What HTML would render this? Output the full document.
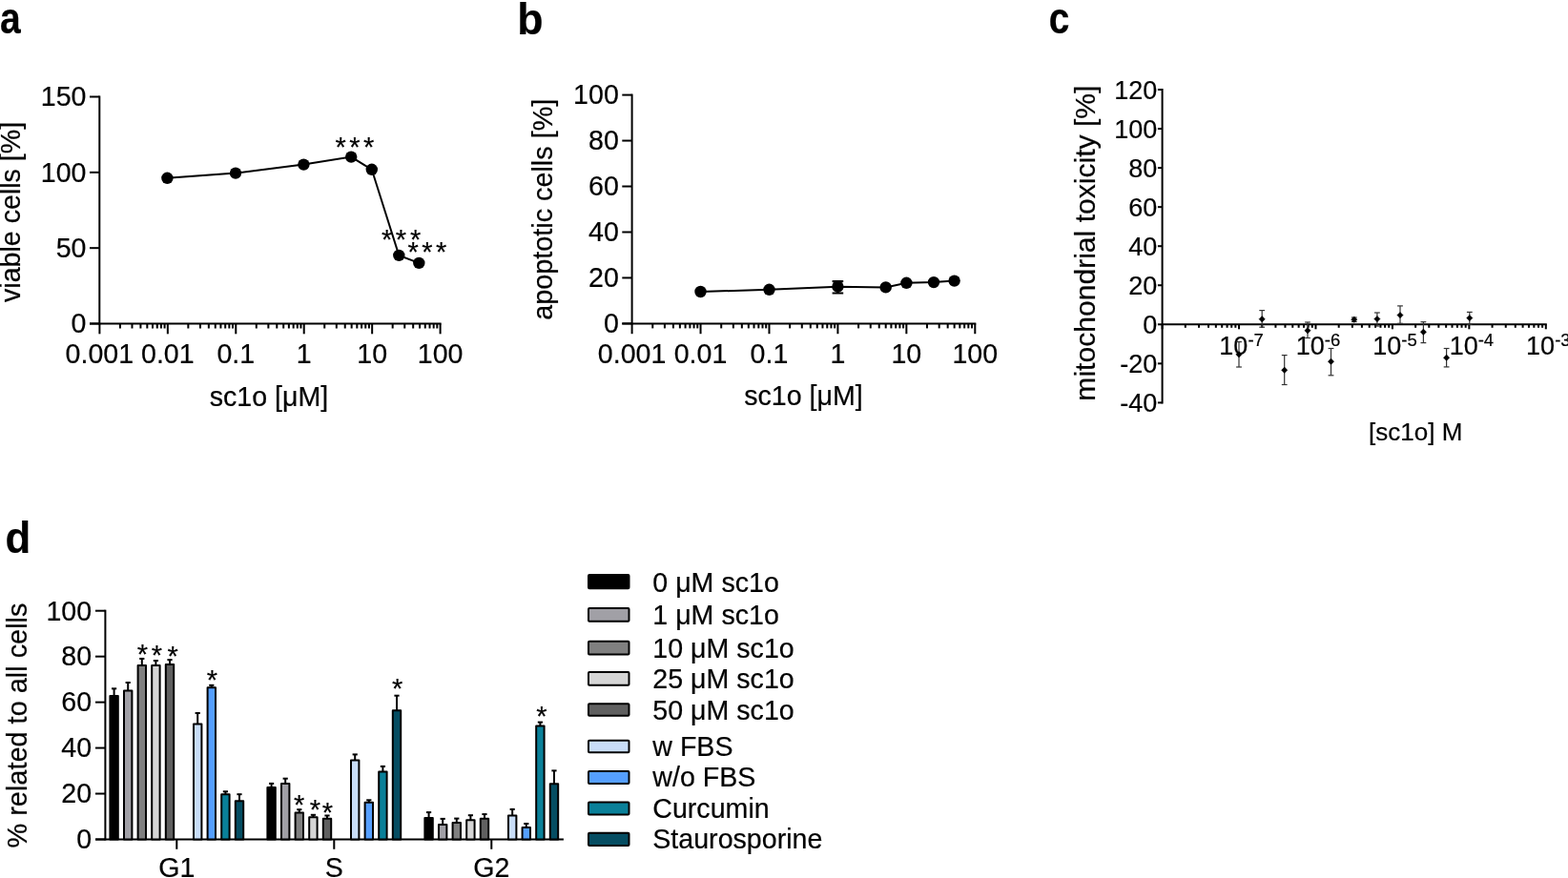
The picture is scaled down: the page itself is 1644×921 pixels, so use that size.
<!DOCTYPE html>
<html><head><meta charset="utf-8"><title>Figure</title>
<style>
html,body{margin:0;padding:0;background:#fff;}
svg{display:block;}
text{font-family:"Liberation Sans", Arial, sans-serif;fill:#000;stroke:#000;stroke-width:0.2px;}
</style></head><body>
<svg width="1644" height="921" viewBox="0 0 1644 921">
<rect width="1644" height="921" fill="#fff"/>
<text x="0" y="0" font-size="47" font-weight="bold" transform="translate(-0.04,35.3) scale(0.83,1)">a</text>
<text x="0" y="0" font-size="47" font-weight="bold" transform="translate(542.35,35.6) scale(0.95,1)">b</text>
<text x="0" y="0" font-size="47" font-weight="bold" transform="translate(1099.8,34.74) scale(0.825,1)">c</text>
<text x="0" y="0" font-size="47" font-weight="bold" transform="translate(5.5,580.2) scale(0.93,1)">d</text>
<line x1="104.30" y1="100.50" x2="104.30" y2="340.50" stroke="#000" stroke-width="2"/>
<line x1="94.00" y1="339.50" x2="104.30" y2="339.50" stroke="#000" stroke-width="2"/>
<text x="90.50" y="349.30" font-size="28.6" text-anchor="end">0</text>
<line x1="94.00" y1="260.17" x2="104.30" y2="260.17" stroke="#000" stroke-width="2"/>
<text x="90.50" y="269.97" font-size="28.6" text-anchor="end">50</text>
<line x1="94.00" y1="180.83" x2="104.30" y2="180.83" stroke="#000" stroke-width="2"/>
<text x="90.50" y="190.63" font-size="28.6" text-anchor="end">100</text>
<line x1="94.00" y1="101.50" x2="104.30" y2="101.50" stroke="#000" stroke-width="2"/>
<text x="90.50" y="111.30" font-size="28.6" text-anchor="end">150</text>
<line x1="94.00" y1="339.50" x2="462.60" y2="339.50" stroke="#000" stroke-width="2"/>
<line x1="104.40" y1="339.50" x2="104.40" y2="350.30" stroke="#000" stroke-width="2"/>
<line x1="125.91" y1="339.50" x2="125.91" y2="344.50" stroke="#000" stroke-width="2"/>
<line x1="138.49" y1="339.50" x2="138.49" y2="344.50" stroke="#000" stroke-width="2"/>
<line x1="147.41" y1="339.50" x2="147.41" y2="344.50" stroke="#000" stroke-width="2"/>
<line x1="154.33" y1="339.50" x2="154.33" y2="344.50" stroke="#000" stroke-width="2"/>
<line x1="159.99" y1="339.50" x2="159.99" y2="344.50" stroke="#000" stroke-width="2"/>
<line x1="164.77" y1="339.50" x2="164.77" y2="344.50" stroke="#000" stroke-width="2"/>
<line x1="168.92" y1="339.50" x2="168.92" y2="344.50" stroke="#000" stroke-width="2"/>
<line x1="172.57" y1="339.50" x2="172.57" y2="344.50" stroke="#000" stroke-width="2"/>
<line x1="175.84" y1="339.50" x2="175.84" y2="350.30" stroke="#000" stroke-width="2"/>
<line x1="197.35" y1="339.50" x2="197.35" y2="344.50" stroke="#000" stroke-width="2"/>
<line x1="209.93" y1="339.50" x2="209.93" y2="344.50" stroke="#000" stroke-width="2"/>
<line x1="218.85" y1="339.50" x2="218.85" y2="344.50" stroke="#000" stroke-width="2"/>
<line x1="225.77" y1="339.50" x2="225.77" y2="344.50" stroke="#000" stroke-width="2"/>
<line x1="231.43" y1="339.50" x2="231.43" y2="344.50" stroke="#000" stroke-width="2"/>
<line x1="236.21" y1="339.50" x2="236.21" y2="344.50" stroke="#000" stroke-width="2"/>
<line x1="240.36" y1="339.50" x2="240.36" y2="344.50" stroke="#000" stroke-width="2"/>
<line x1="244.01" y1="339.50" x2="244.01" y2="344.50" stroke="#000" stroke-width="2"/>
<line x1="247.28" y1="339.50" x2="247.28" y2="350.30" stroke="#000" stroke-width="2"/>
<line x1="268.79" y1="339.50" x2="268.79" y2="344.50" stroke="#000" stroke-width="2"/>
<line x1="281.37" y1="339.50" x2="281.37" y2="344.50" stroke="#000" stroke-width="2"/>
<line x1="290.29" y1="339.50" x2="290.29" y2="344.50" stroke="#000" stroke-width="2"/>
<line x1="297.21" y1="339.50" x2="297.21" y2="344.50" stroke="#000" stroke-width="2"/>
<line x1="302.87" y1="339.50" x2="302.87" y2="344.50" stroke="#000" stroke-width="2"/>
<line x1="307.65" y1="339.50" x2="307.65" y2="344.50" stroke="#000" stroke-width="2"/>
<line x1="311.80" y1="339.50" x2="311.80" y2="344.50" stroke="#000" stroke-width="2"/>
<line x1="315.45" y1="339.50" x2="315.45" y2="344.50" stroke="#000" stroke-width="2"/>
<line x1="318.72" y1="339.50" x2="318.72" y2="350.30" stroke="#000" stroke-width="2"/>
<line x1="340.23" y1="339.50" x2="340.23" y2="344.50" stroke="#000" stroke-width="2"/>
<line x1="352.81" y1="339.50" x2="352.81" y2="344.50" stroke="#000" stroke-width="2"/>
<line x1="361.73" y1="339.50" x2="361.73" y2="344.50" stroke="#000" stroke-width="2"/>
<line x1="368.65" y1="339.50" x2="368.65" y2="344.50" stroke="#000" stroke-width="2"/>
<line x1="374.31" y1="339.50" x2="374.31" y2="344.50" stroke="#000" stroke-width="2"/>
<line x1="379.09" y1="339.50" x2="379.09" y2="344.50" stroke="#000" stroke-width="2"/>
<line x1="383.24" y1="339.50" x2="383.24" y2="344.50" stroke="#000" stroke-width="2"/>
<line x1="386.89" y1="339.50" x2="386.89" y2="344.50" stroke="#000" stroke-width="2"/>
<line x1="390.16" y1="339.50" x2="390.16" y2="350.30" stroke="#000" stroke-width="2"/>
<line x1="411.67" y1="339.50" x2="411.67" y2="344.50" stroke="#000" stroke-width="2"/>
<line x1="424.25" y1="339.50" x2="424.25" y2="344.50" stroke="#000" stroke-width="2"/>
<line x1="433.17" y1="339.50" x2="433.17" y2="344.50" stroke="#000" stroke-width="2"/>
<line x1="440.09" y1="339.50" x2="440.09" y2="344.50" stroke="#000" stroke-width="2"/>
<line x1="445.75" y1="339.50" x2="445.75" y2="344.50" stroke="#000" stroke-width="2"/>
<line x1="450.53" y1="339.50" x2="450.53" y2="344.50" stroke="#000" stroke-width="2"/>
<line x1="454.68" y1="339.50" x2="454.68" y2="344.50" stroke="#000" stroke-width="2"/>
<line x1="458.33" y1="339.50" x2="458.33" y2="344.50" stroke="#000" stroke-width="2"/>
<line x1="461.60" y1="339.50" x2="461.60" y2="350.30" stroke="#000" stroke-width="2"/>
<text x="104.40" y="381.00" font-size="28.6" text-anchor="middle">0.001</text>
<text x="175.84" y="381.00" font-size="28.6" text-anchor="middle">0.01</text>
<text x="247.28" y="381.00" font-size="28.6" text-anchor="middle">0.1</text>
<text x="318.72" y="381.00" font-size="28.6" text-anchor="middle">1</text>
<text x="390.16" y="381.00" font-size="28.6" text-anchor="middle">10</text>
<text x="461.60" y="381.00" font-size="28.6" text-anchor="middle">100</text>
<text x="282.00" y="425.50" font-size="28.6" text-anchor="middle">sc1o [μM]</text>
<text x="0" y="0" font-size="28.6" text-anchor="middle" transform="translate(21.00,222.40) rotate(-90)">viable cells [%]</text>
<polyline fill="none" stroke="#000" stroke-width="2" points="175.4,186.8 247.0,181.6 318.4,172.6 368.2,164.6 389.8,177.8 418.3,267.9 439.3,275.9"/>
<circle cx="175.4" cy="186.8" r="6.2" fill="#000"/>
<circle cx="247" cy="181.6" r="6.2" fill="#000"/>
<circle cx="318.4" cy="172.6" r="6.2" fill="#000"/>
<circle cx="368.2" cy="164.6" r="6.2" fill="#000"/>
<circle cx="389.8" cy="177.8" r="6.2" fill="#000"/>
<circle cx="418.3" cy="267.9" r="6.2" fill="#000"/>
<circle cx="439.3" cy="275.9" r="6.2" fill="#000"/>
<text x="357.25" y="164.17" font-size="29" text-anchor="middle" stroke="#000" stroke-width="0.25">*</text>
<text x="371.80" y="164.17" font-size="29" text-anchor="middle" stroke="#000" stroke-width="0.25">*</text>
<text x="386.70" y="164.17" font-size="29" text-anchor="middle" stroke="#000" stroke-width="0.25">*</text>
<text x="405.60" y="261.47" font-size="29" text-anchor="middle" stroke="#000" stroke-width="0.25">*</text>
<text x="420.50" y="261.47" font-size="29" text-anchor="middle" stroke="#000" stroke-width="0.25">*</text>
<text x="435.60" y="261.47" font-size="29" text-anchor="middle" stroke="#000" stroke-width="0.25">*</text>
<text x="433.10" y="273.77" font-size="29" text-anchor="middle" stroke="#000" stroke-width="0.25">*</text>
<text x="447.80" y="273.77" font-size="29" text-anchor="middle" stroke="#000" stroke-width="0.25">*</text>
<text x="462.70" y="273.77" font-size="29" text-anchor="middle" stroke="#000" stroke-width="0.25">*</text>
<line x1="662.60" y1="98.60" x2="662.60" y2="340.40" stroke="#000" stroke-width="2"/>
<line x1="652.30" y1="339.40" x2="662.60" y2="339.40" stroke="#000" stroke-width="2"/>
<text x="648.80" y="349.20" font-size="28.6" text-anchor="end">0</text>
<line x1="652.30" y1="291.44" x2="662.60" y2="291.44" stroke="#000" stroke-width="2"/>
<text x="648.80" y="301.24" font-size="28.6" text-anchor="end">20</text>
<line x1="652.30" y1="243.48" x2="662.60" y2="243.48" stroke="#000" stroke-width="2"/>
<text x="648.80" y="253.28" font-size="28.6" text-anchor="end">40</text>
<line x1="652.30" y1="195.52" x2="662.60" y2="195.52" stroke="#000" stroke-width="2"/>
<text x="648.80" y="205.32" font-size="28.6" text-anchor="end">60</text>
<line x1="652.30" y1="147.56" x2="662.60" y2="147.56" stroke="#000" stroke-width="2"/>
<text x="648.80" y="157.36" font-size="28.6" text-anchor="end">80</text>
<line x1="652.30" y1="99.60" x2="662.60" y2="99.60" stroke="#000" stroke-width="2"/>
<text x="648.80" y="109.40" font-size="28.6" text-anchor="end">100</text>
<line x1="652.30" y1="339.40" x2="1023.30" y2="339.40" stroke="#000" stroke-width="2"/>
<line x1="662.60" y1="339.40" x2="662.60" y2="350.20" stroke="#000" stroke-width="2"/>
<line x1="684.26" y1="339.40" x2="684.26" y2="344.40" stroke="#000" stroke-width="2"/>
<line x1="696.92" y1="339.40" x2="696.92" y2="344.40" stroke="#000" stroke-width="2"/>
<line x1="705.91" y1="339.40" x2="705.91" y2="344.40" stroke="#000" stroke-width="2"/>
<line x1="712.88" y1="339.40" x2="712.88" y2="344.40" stroke="#000" stroke-width="2"/>
<line x1="718.58" y1="339.40" x2="718.58" y2="344.40" stroke="#000" stroke-width="2"/>
<line x1="723.40" y1="339.40" x2="723.40" y2="344.40" stroke="#000" stroke-width="2"/>
<line x1="727.57" y1="339.40" x2="727.57" y2="344.40" stroke="#000" stroke-width="2"/>
<line x1="731.25" y1="339.40" x2="731.25" y2="344.40" stroke="#000" stroke-width="2"/>
<line x1="734.54" y1="339.40" x2="734.54" y2="350.20" stroke="#000" stroke-width="2"/>
<line x1="756.20" y1="339.40" x2="756.20" y2="344.40" stroke="#000" stroke-width="2"/>
<line x1="768.86" y1="339.40" x2="768.86" y2="344.40" stroke="#000" stroke-width="2"/>
<line x1="777.85" y1="339.40" x2="777.85" y2="344.40" stroke="#000" stroke-width="2"/>
<line x1="784.82" y1="339.40" x2="784.82" y2="344.40" stroke="#000" stroke-width="2"/>
<line x1="790.52" y1="339.40" x2="790.52" y2="344.40" stroke="#000" stroke-width="2"/>
<line x1="795.34" y1="339.40" x2="795.34" y2="344.40" stroke="#000" stroke-width="2"/>
<line x1="799.51" y1="339.40" x2="799.51" y2="344.40" stroke="#000" stroke-width="2"/>
<line x1="803.19" y1="339.40" x2="803.19" y2="344.40" stroke="#000" stroke-width="2"/>
<line x1="806.48" y1="339.40" x2="806.48" y2="350.20" stroke="#000" stroke-width="2"/>
<line x1="828.14" y1="339.40" x2="828.14" y2="344.40" stroke="#000" stroke-width="2"/>
<line x1="840.80" y1="339.40" x2="840.80" y2="344.40" stroke="#000" stroke-width="2"/>
<line x1="849.79" y1="339.40" x2="849.79" y2="344.40" stroke="#000" stroke-width="2"/>
<line x1="856.76" y1="339.40" x2="856.76" y2="344.40" stroke="#000" stroke-width="2"/>
<line x1="862.46" y1="339.40" x2="862.46" y2="344.40" stroke="#000" stroke-width="2"/>
<line x1="867.28" y1="339.40" x2="867.28" y2="344.40" stroke="#000" stroke-width="2"/>
<line x1="871.45" y1="339.40" x2="871.45" y2="344.40" stroke="#000" stroke-width="2"/>
<line x1="875.13" y1="339.40" x2="875.13" y2="344.40" stroke="#000" stroke-width="2"/>
<line x1="878.42" y1="339.40" x2="878.42" y2="350.20" stroke="#000" stroke-width="2"/>
<line x1="900.08" y1="339.40" x2="900.08" y2="344.40" stroke="#000" stroke-width="2"/>
<line x1="912.74" y1="339.40" x2="912.74" y2="344.40" stroke="#000" stroke-width="2"/>
<line x1="921.73" y1="339.40" x2="921.73" y2="344.40" stroke="#000" stroke-width="2"/>
<line x1="928.70" y1="339.40" x2="928.70" y2="344.40" stroke="#000" stroke-width="2"/>
<line x1="934.40" y1="339.40" x2="934.40" y2="344.40" stroke="#000" stroke-width="2"/>
<line x1="939.22" y1="339.40" x2="939.22" y2="344.40" stroke="#000" stroke-width="2"/>
<line x1="943.39" y1="339.40" x2="943.39" y2="344.40" stroke="#000" stroke-width="2"/>
<line x1="947.07" y1="339.40" x2="947.07" y2="344.40" stroke="#000" stroke-width="2"/>
<line x1="950.36" y1="339.40" x2="950.36" y2="350.20" stroke="#000" stroke-width="2"/>
<line x1="972.02" y1="339.40" x2="972.02" y2="344.40" stroke="#000" stroke-width="2"/>
<line x1="984.68" y1="339.40" x2="984.68" y2="344.40" stroke="#000" stroke-width="2"/>
<line x1="993.67" y1="339.40" x2="993.67" y2="344.40" stroke="#000" stroke-width="2"/>
<line x1="1000.64" y1="339.40" x2="1000.64" y2="344.40" stroke="#000" stroke-width="2"/>
<line x1="1006.34" y1="339.40" x2="1006.34" y2="344.40" stroke="#000" stroke-width="2"/>
<line x1="1011.16" y1="339.40" x2="1011.16" y2="344.40" stroke="#000" stroke-width="2"/>
<line x1="1015.33" y1="339.40" x2="1015.33" y2="344.40" stroke="#000" stroke-width="2"/>
<line x1="1019.01" y1="339.40" x2="1019.01" y2="344.40" stroke="#000" stroke-width="2"/>
<line x1="1022.30" y1="339.40" x2="1022.30" y2="350.20" stroke="#000" stroke-width="2"/>
<text x="662.60" y="381.00" font-size="28.6" text-anchor="middle">0.001</text>
<text x="734.54" y="381.00" font-size="28.6" text-anchor="middle">0.01</text>
<text x="806.48" y="381.00" font-size="28.6" text-anchor="middle">0.1</text>
<text x="878.42" y="381.00" font-size="28.6" text-anchor="middle">1</text>
<text x="950.36" y="381.00" font-size="28.6" text-anchor="middle">10</text>
<text x="1022.30" y="381.00" font-size="28.6" text-anchor="middle">100</text>
<text x="842.50" y="425.40" font-size="28.6" text-anchor="middle">sc1o [μM]</text>
<text x="0" y="0" font-size="28.8" text-anchor="middle" transform="translate(578.50,219.80) rotate(-90)">apoptotic cells [%]</text>
<line x1="878.40" y1="295.00" x2="878.40" y2="307.50" stroke="#000" stroke-width="2"/>
<line x1="872.60" y1="295.00" x2="884.20" y2="295.00" stroke="#000" stroke-width="2"/>
<line x1="872.60" y1="307.50" x2="884.20" y2="307.50" stroke="#000" stroke-width="2"/>
<polyline fill="none" stroke="#000" stroke-width="2" points="734.5,306.0 806.5,303.8 878.4,300.7 928.7,301.4 950.4,296.8 979.0,296.1 1000.6,294.6"/>
<circle cx="734.5" cy="306" r="6.2" fill="#000"/>
<circle cx="806.5" cy="303.8" r="6.2" fill="#000"/>
<circle cx="878.4" cy="300.7" r="6.2" fill="#000"/>
<circle cx="928.7" cy="301.4" r="6.2" fill="#000"/>
<circle cx="950.4" cy="296.8" r="6.2" fill="#000"/>
<circle cx="979" cy="296.1" r="6.2" fill="#000"/>
<circle cx="1000.6" cy="294.6" r="6.2" fill="#000"/>
<line x1="1218.60" y1="93.00" x2="1218.60" y2="423.40" stroke="#000" stroke-width="2"/>
<line x1="1213.90" y1="422.40" x2="1218.60" y2="422.40" stroke="#000" stroke-width="2"/>
<text x="1213.20" y="432.20" font-size="27" text-anchor="end">-40</text>
<line x1="1213.90" y1="381.35" x2="1218.60" y2="381.35" stroke="#000" stroke-width="2"/>
<text x="1213.20" y="391.15" font-size="27" text-anchor="end">-20</text>
<line x1="1213.90" y1="340.30" x2="1218.60" y2="340.30" stroke="#000" stroke-width="2"/>
<text x="1213.20" y="350.10" font-size="27" text-anchor="end">0</text>
<line x1="1213.90" y1="299.25" x2="1218.60" y2="299.25" stroke="#000" stroke-width="2"/>
<text x="1213.20" y="309.05" font-size="27" text-anchor="end">20</text>
<line x1="1213.90" y1="258.20" x2="1218.60" y2="258.20" stroke="#000" stroke-width="2"/>
<text x="1213.20" y="268.00" font-size="27" text-anchor="end">40</text>
<line x1="1213.90" y1="217.15" x2="1218.60" y2="217.15" stroke="#000" stroke-width="2"/>
<text x="1213.20" y="226.95" font-size="27" text-anchor="end">60</text>
<line x1="1213.90" y1="176.10" x2="1218.60" y2="176.10" stroke="#000" stroke-width="2"/>
<text x="1213.20" y="185.90" font-size="27" text-anchor="end">80</text>
<line x1="1213.90" y1="135.05" x2="1218.60" y2="135.05" stroke="#000" stroke-width="2"/>
<text x="1213.20" y="144.85" font-size="27" text-anchor="end">100</text>
<line x1="1213.90" y1="94.00" x2="1218.60" y2="94.00" stroke="#000" stroke-width="2"/>
<text x="1213.20" y="103.80" font-size="27" text-anchor="end">120</text>
<line x1="1218.60" y1="340.30" x2="1621.80" y2="340.30" stroke="#000" stroke-width="2"/>
<line x1="1218.60" y1="340.30" x2="1218.60" y2="345.30" stroke="#000" stroke-width="2"/>
<line x1="1242.81" y1="340.30" x2="1242.81" y2="343.80" stroke="#000" stroke-width="2"/>
<line x1="1256.98" y1="340.30" x2="1256.98" y2="343.80" stroke="#000" stroke-width="2"/>
<line x1="1267.03" y1="340.30" x2="1267.03" y2="343.80" stroke="#000" stroke-width="2"/>
<line x1="1274.83" y1="340.30" x2="1274.83" y2="343.80" stroke="#000" stroke-width="2"/>
<line x1="1281.19" y1="340.30" x2="1281.19" y2="343.80" stroke="#000" stroke-width="2"/>
<line x1="1286.58" y1="340.30" x2="1286.58" y2="343.80" stroke="#000" stroke-width="2"/>
<line x1="1291.24" y1="340.30" x2="1291.24" y2="343.80" stroke="#000" stroke-width="2"/>
<line x1="1295.36" y1="340.30" x2="1295.36" y2="343.80" stroke="#000" stroke-width="2"/>
<line x1="1299.04" y1="340.30" x2="1299.04" y2="345.30" stroke="#000" stroke-width="2"/>
<line x1="1323.25" y1="340.30" x2="1323.25" y2="343.80" stroke="#000" stroke-width="2"/>
<line x1="1337.42" y1="340.30" x2="1337.42" y2="343.80" stroke="#000" stroke-width="2"/>
<line x1="1347.47" y1="340.30" x2="1347.47" y2="343.80" stroke="#000" stroke-width="2"/>
<line x1="1355.27" y1="340.30" x2="1355.27" y2="343.80" stroke="#000" stroke-width="2"/>
<line x1="1361.63" y1="340.30" x2="1361.63" y2="343.80" stroke="#000" stroke-width="2"/>
<line x1="1367.02" y1="340.30" x2="1367.02" y2="343.80" stroke="#000" stroke-width="2"/>
<line x1="1371.68" y1="340.30" x2="1371.68" y2="343.80" stroke="#000" stroke-width="2"/>
<line x1="1375.80" y1="340.30" x2="1375.80" y2="343.80" stroke="#000" stroke-width="2"/>
<line x1="1379.48" y1="340.30" x2="1379.48" y2="345.30" stroke="#000" stroke-width="2"/>
<line x1="1403.69" y1="340.30" x2="1403.69" y2="343.80" stroke="#000" stroke-width="2"/>
<line x1="1417.86" y1="340.30" x2="1417.86" y2="343.80" stroke="#000" stroke-width="2"/>
<line x1="1427.91" y1="340.30" x2="1427.91" y2="343.80" stroke="#000" stroke-width="2"/>
<line x1="1435.71" y1="340.30" x2="1435.71" y2="343.80" stroke="#000" stroke-width="2"/>
<line x1="1442.07" y1="340.30" x2="1442.07" y2="343.80" stroke="#000" stroke-width="2"/>
<line x1="1447.46" y1="340.30" x2="1447.46" y2="343.80" stroke="#000" stroke-width="2"/>
<line x1="1452.12" y1="340.30" x2="1452.12" y2="343.80" stroke="#000" stroke-width="2"/>
<line x1="1456.24" y1="340.30" x2="1456.24" y2="343.80" stroke="#000" stroke-width="2"/>
<line x1="1459.92" y1="340.30" x2="1459.92" y2="345.30" stroke="#000" stroke-width="2"/>
<line x1="1484.13" y1="340.30" x2="1484.13" y2="343.80" stroke="#000" stroke-width="2"/>
<line x1="1498.30" y1="340.30" x2="1498.30" y2="343.80" stroke="#000" stroke-width="2"/>
<line x1="1508.35" y1="340.30" x2="1508.35" y2="343.80" stroke="#000" stroke-width="2"/>
<line x1="1516.15" y1="340.30" x2="1516.15" y2="343.80" stroke="#000" stroke-width="2"/>
<line x1="1522.51" y1="340.30" x2="1522.51" y2="343.80" stroke="#000" stroke-width="2"/>
<line x1="1527.90" y1="340.30" x2="1527.90" y2="343.80" stroke="#000" stroke-width="2"/>
<line x1="1532.56" y1="340.30" x2="1532.56" y2="343.80" stroke="#000" stroke-width="2"/>
<line x1="1536.68" y1="340.30" x2="1536.68" y2="343.80" stroke="#000" stroke-width="2"/>
<line x1="1540.36" y1="340.30" x2="1540.36" y2="345.30" stroke="#000" stroke-width="2"/>
<line x1="1564.57" y1="340.30" x2="1564.57" y2="343.80" stroke="#000" stroke-width="2"/>
<line x1="1578.74" y1="340.30" x2="1578.74" y2="343.80" stroke="#000" stroke-width="2"/>
<line x1="1588.79" y1="340.30" x2="1588.79" y2="343.80" stroke="#000" stroke-width="2"/>
<line x1="1596.59" y1="340.30" x2="1596.59" y2="343.80" stroke="#000" stroke-width="2"/>
<line x1="1602.95" y1="340.30" x2="1602.95" y2="343.80" stroke="#000" stroke-width="2"/>
<line x1="1608.34" y1="340.30" x2="1608.34" y2="343.80" stroke="#000" stroke-width="2"/>
<line x1="1613.00" y1="340.30" x2="1613.00" y2="343.80" stroke="#000" stroke-width="2"/>
<line x1="1617.12" y1="340.30" x2="1617.12" y2="343.80" stroke="#000" stroke-width="2"/>
<line x1="1620.80" y1="340.30" x2="1620.80" y2="345.30" stroke="#000" stroke-width="2"/>
<text x="1278.34" y="371.6" font-size="27">10<tspan font-size="18.5" dy="-9">-7</tspan></text>
<text x="1358.78" y="371.6" font-size="27">10<tspan font-size="18.5" dy="-9">-6</tspan></text>
<text x="1439.22" y="371.6" font-size="27">10<tspan font-size="18.5" dy="-9">-5</tspan></text>
<text x="1519.66" y="371.6" font-size="27">10<tspan font-size="18.5" dy="-9">-4</tspan></text>
<text x="1600.10" y="371.6" font-size="27">10<tspan font-size="18.5" dy="-9">-3</tspan></text>
<text x="1484.20" y="461.90" font-size="26" text-anchor="middle">[sc1o] M</text>
<text x="0" y="0" font-size="30.1" text-anchor="middle" transform="translate(1147.80,255.10) rotate(-90)">mitochondrial toxicity [%]</text>
<line x1="1299.00" y1="358.60" x2="1299.00" y2="385.00" stroke="#333" stroke-width="1.2"/>
<line x1="1296.10" y1="358.60" x2="1301.90" y2="358.60" stroke="#333" stroke-width="1.2"/>
<line x1="1296.10" y1="385.00" x2="1301.90" y2="385.00" stroke="#333" stroke-width="1.2"/>
<path d="M1299,368.6 L1302.2,371.8 L1299,375.0 L1295.8,371.8 Z" fill="#000" stroke="#000" stroke-width="0.4" stroke-linejoin="round"/>
<line x1="1323.20" y1="325.60" x2="1323.20" y2="343.20" stroke="#333" stroke-width="1.2"/>
<line x1="1320.30" y1="325.60" x2="1326.10" y2="325.60" stroke="#333" stroke-width="1.2"/>
<line x1="1320.30" y1="343.20" x2="1326.10" y2="343.20" stroke="#333" stroke-width="1.2"/>
<path d="M1323.2,331.5 L1326.4,334.7 L1323.2,337.9 L1320.0,334.7 Z" fill="#000" stroke="#000" stroke-width="0.4" stroke-linejoin="round"/>
<line x1="1346.70" y1="372.60" x2="1346.70" y2="403.50" stroke="#333" stroke-width="1.2"/>
<line x1="1343.80" y1="372.60" x2="1349.60" y2="372.60" stroke="#333" stroke-width="1.2"/>
<line x1="1343.80" y1="403.50" x2="1349.60" y2="403.50" stroke="#333" stroke-width="1.2"/>
<path d="M1346.7,385.1 L1349.9,388.3 L1346.7,391.5 L1343.5,388.3 Z" fill="#000" stroke="#000" stroke-width="0.4" stroke-linejoin="round"/>
<line x1="1371.00" y1="338.00" x2="1371.00" y2="354.50" stroke="#333" stroke-width="1.2"/>
<line x1="1368.10" y1="338.00" x2="1373.90" y2="338.00" stroke="#333" stroke-width="1.2"/>
<line x1="1368.10" y1="354.50" x2="1373.90" y2="354.50" stroke="#333" stroke-width="1.2"/>
<path d="M1371,343.5 L1374.2,346.7 L1371,349.9 L1367.8,346.7 Z" fill="#000" stroke="#000" stroke-width="0.4" stroke-linejoin="round"/>
<line x1="1395.50" y1="365.50" x2="1395.50" y2="393.80" stroke="#333" stroke-width="1.2"/>
<line x1="1392.60" y1="365.50" x2="1398.40" y2="365.50" stroke="#333" stroke-width="1.2"/>
<line x1="1392.60" y1="393.80" x2="1398.40" y2="393.80" stroke="#333" stroke-width="1.2"/>
<path d="M1395.5,376.0 L1398.7,379.2 L1395.5,382.4 L1392.3,379.2 Z" fill="#000" stroke="#000" stroke-width="0.4" stroke-linejoin="round"/>
<line x1="1419.80" y1="333.00" x2="1419.80" y2="337.50" stroke="#333" stroke-width="1.2"/>
<line x1="1416.90" y1="333.00" x2="1422.70" y2="333.00" stroke="#333" stroke-width="1.2"/>
<line x1="1416.90" y1="337.50" x2="1422.70" y2="337.50" stroke="#333" stroke-width="1.2"/>
<path d="M1419.8,332.0 L1423.0,335.2 L1419.8,338.4 L1416.6,335.2 Z" fill="#000" stroke="#000" stroke-width="0.4" stroke-linejoin="round"/>
<line x1="1443.90" y1="328.00" x2="1443.90" y2="342.00" stroke="#333" stroke-width="1.2"/>
<line x1="1441.00" y1="328.00" x2="1446.80" y2="328.00" stroke="#333" stroke-width="1.2"/>
<line x1="1441.00" y1="342.00" x2="1446.80" y2="342.00" stroke="#333" stroke-width="1.2"/>
<path d="M1443.9,331.40000000000003 L1447.1000000000001,334.6 L1443.9,337.8 L1440.7,334.6 Z" fill="#000" stroke="#000" stroke-width="0.4" stroke-linejoin="round"/>
<line x1="1468.00" y1="320.90" x2="1468.00" y2="339.30" stroke="#333" stroke-width="1.2"/>
<line x1="1465.10" y1="320.90" x2="1470.90" y2="320.90" stroke="#333" stroke-width="1.2"/>
<line x1="1465.10" y1="339.30" x2="1470.90" y2="339.30" stroke="#333" stroke-width="1.2"/>
<path d="M1468,327.40000000000003 L1471.2,330.6 L1468,333.8 L1464.8,330.6 Z" fill="#000" stroke="#000" stroke-width="0.4" stroke-linejoin="round"/>
<line x1="1492.40" y1="337.70" x2="1492.40" y2="359.60" stroke="#333" stroke-width="1.2"/>
<line x1="1489.50" y1="337.70" x2="1495.30" y2="337.70" stroke="#333" stroke-width="1.2"/>
<line x1="1489.50" y1="359.60" x2="1495.30" y2="359.60" stroke="#333" stroke-width="1.2"/>
<path d="M1492.4,345.1 L1495.6000000000001,348.3 L1492.4,351.5 L1489.2,348.3 Z" fill="#000" stroke="#000" stroke-width="0.4" stroke-linejoin="round"/>
<line x1="1516.60" y1="365.50" x2="1516.60" y2="384.90" stroke="#333" stroke-width="1.2"/>
<line x1="1513.70" y1="365.50" x2="1519.50" y2="365.50" stroke="#333" stroke-width="1.2"/>
<line x1="1513.70" y1="384.90" x2="1519.50" y2="384.90" stroke="#333" stroke-width="1.2"/>
<path d="M1516.6,372.0 L1519.8,375.2 L1516.6,378.4 L1513.3999999999999,375.2 Z" fill="#000" stroke="#000" stroke-width="0.4" stroke-linejoin="round"/>
<line x1="1540.80" y1="327.40" x2="1540.80" y2="340.30" stroke="#333" stroke-width="1.2"/>
<line x1="1537.90" y1="327.40" x2="1543.70" y2="327.40" stroke="#333" stroke-width="1.2"/>
<line x1="1537.90" y1="340.30" x2="1543.70" y2="340.30" stroke="#333" stroke-width="1.2"/>
<path d="M1540.8,330.40000000000003 L1544.0,333.6 L1540.8,336.8 L1537.6,333.6 Z" fill="#000" stroke="#000" stroke-width="0.4" stroke-linejoin="round"/>
<line x1="110.40" y1="639.70" x2="110.40" y2="881.50" stroke="#000" stroke-width="2"/>
<line x1="100.00" y1="880.50" x2="110.40" y2="880.50" stroke="#000" stroke-width="2"/>
<text x="96.10" y="890.30" font-size="28.6" text-anchor="end">0</text>
<line x1="100.00" y1="832.54" x2="110.40" y2="832.54" stroke="#000" stroke-width="2"/>
<text x="96.10" y="842.34" font-size="28.6" text-anchor="end">20</text>
<line x1="100.00" y1="784.58" x2="110.40" y2="784.58" stroke="#000" stroke-width="2"/>
<text x="96.10" y="794.38" font-size="28.6" text-anchor="end">40</text>
<line x1="100.00" y1="736.62" x2="110.40" y2="736.62" stroke="#000" stroke-width="2"/>
<text x="96.10" y="746.42" font-size="28.6" text-anchor="end">60</text>
<line x1="100.00" y1="688.66" x2="110.40" y2="688.66" stroke="#000" stroke-width="2"/>
<text x="96.10" y="698.46" font-size="28.6" text-anchor="end">80</text>
<line x1="100.00" y1="640.70" x2="110.40" y2="640.70" stroke="#000" stroke-width="2"/>
<text x="96.10" y="650.50" font-size="28.6" text-anchor="end">100</text>
<line x1="100.20" y1="880.50" x2="590.90" y2="880.50" stroke="#000" stroke-width="2"/>
<line x1="185.30" y1="880.50" x2="185.30" y2="890.80" stroke="#000" stroke-width="2"/>
<text x="185.30" y="919.50" font-size="28.6" text-anchor="middle">G1</text>
<line x1="350.30" y1="880.50" x2="350.30" y2="890.80" stroke="#000" stroke-width="2"/>
<text x="350.30" y="919.50" font-size="28.6" text-anchor="middle">S</text>
<line x1="515.28" y1="880.50" x2="515.28" y2="890.80" stroke="#000" stroke-width="2"/>
<text x="515.28" y="919.50" font-size="28.6" text-anchor="middle">G2</text>
<text x="0" y="0" font-size="28.9" text-anchor="middle" transform="translate(27.50,761.00) rotate(-90)">% related to all cells</text>
<line x1="119.60" y1="722.35" x2="119.60" y2="730.00" stroke="#000" stroke-width="2"/>
<line x1="117.00" y1="722.35" x2="122.20" y2="722.35" stroke="#000" stroke-width="2"/>
<rect x="115.40" y="730.00" width="8.4" height="150.50" fill="#000000" stroke="#000" stroke-width="2" stroke-linejoin="round"/>
<line x1="134.20" y1="716.00" x2="134.20" y2="724.60" stroke="#000" stroke-width="2"/>
<line x1="131.60" y1="716.00" x2="136.80" y2="716.00" stroke="#000" stroke-width="2"/>
<rect x="130.00" y="724.60" width="8.4" height="155.90" fill="#a1a0a6" stroke="#000" stroke-width="2" stroke-linejoin="round"/>
<line x1="148.80" y1="690.95" x2="148.80" y2="697.90" stroke="#000" stroke-width="2"/>
<line x1="146.20" y1="690.95" x2="151.40" y2="690.95" stroke="#000" stroke-width="2"/>
<rect x="144.60" y="697.90" width="8.4" height="182.60" fill="#808080" stroke="#000" stroke-width="2" stroke-linejoin="round"/>
<line x1="163.40" y1="693.05" x2="163.40" y2="697.90" stroke="#000" stroke-width="2"/>
<line x1="160.80" y1="693.05" x2="166.00" y2="693.05" stroke="#000" stroke-width="2"/>
<rect x="159.20" y="697.90" width="8.4" height="182.60" fill="#d6d6d6" stroke="#000" stroke-width="2" stroke-linejoin="round"/>
<line x1="178.00" y1="692.15" x2="178.00" y2="697.10" stroke="#000" stroke-width="2"/>
<line x1="175.40" y1="692.15" x2="180.60" y2="692.15" stroke="#000" stroke-width="2"/>
<rect x="173.80" y="697.10" width="8.4" height="183.40" fill="#606060" stroke="#000" stroke-width="2" stroke-linejoin="round"/>
<line x1="207.20" y1="748.00" x2="207.20" y2="759.40" stroke="#000" stroke-width="2"/>
<line x1="204.60" y1="748.00" x2="209.80" y2="748.00" stroke="#000" stroke-width="2"/>
<rect x="203.00" y="759.40" width="8.4" height="121.10" fill="#c8ddf8" stroke="#000" stroke-width="2" stroke-linejoin="round"/>
<line x1="221.80" y1="718.80" x2="221.80" y2="721.20" stroke="#000" stroke-width="2"/>
<line x1="219.20" y1="718.80" x2="224.40" y2="718.80" stroke="#000" stroke-width="2"/>
<rect x="217.60" y="721.20" width="8.4" height="159.30" fill="#559fff" stroke="#000" stroke-width="2" stroke-linejoin="round"/>
<line x1="236.40" y1="830.30" x2="236.40" y2="833.20" stroke="#000" stroke-width="2"/>
<line x1="233.80" y1="830.30" x2="239.00" y2="830.30" stroke="#000" stroke-width="2"/>
<rect x="232.20" y="833.20" width="8.4" height="47.30" fill="#0a8099" stroke="#000" stroke-width="2" stroke-linejoin="round"/>
<line x1="251.00" y1="833.20" x2="251.00" y2="840.20" stroke="#000" stroke-width="2"/>
<line x1="248.40" y1="833.20" x2="253.60" y2="833.20" stroke="#000" stroke-width="2"/>
<rect x="246.80" y="840.20" width="8.4" height="40.30" fill="#054d62" stroke="#000" stroke-width="2" stroke-linejoin="round"/>
<line x1="284.60" y1="821.90" x2="284.60" y2="826.00" stroke="#000" stroke-width="2"/>
<line x1="282.00" y1="821.90" x2="287.20" y2="821.90" stroke="#000" stroke-width="2"/>
<rect x="280.40" y="826.00" width="8.4" height="54.50" fill="#000000" stroke="#000" stroke-width="2" stroke-linejoin="round"/>
<line x1="299.20" y1="816.70" x2="299.20" y2="822.00" stroke="#000" stroke-width="2"/>
<line x1="296.60" y1="816.70" x2="301.80" y2="816.70" stroke="#000" stroke-width="2"/>
<rect x="295.00" y="822.00" width="8.4" height="58.50" fill="#a1a0a6" stroke="#000" stroke-width="2" stroke-linejoin="round"/>
<line x1="313.80" y1="849.20" x2="313.80" y2="852.50" stroke="#000" stroke-width="2"/>
<line x1="311.20" y1="849.20" x2="316.40" y2="849.20" stroke="#000" stroke-width="2"/>
<rect x="309.60" y="852.50" width="8.4" height="28.00" fill="#808080" stroke="#000" stroke-width="2" stroke-linejoin="round"/>
<line x1="328.40" y1="854.80" x2="328.40" y2="857.30" stroke="#000" stroke-width="2"/>
<line x1="325.80" y1="854.80" x2="331.00" y2="854.80" stroke="#000" stroke-width="2"/>
<rect x="324.20" y="857.30" width="8.4" height="23.20" fill="#d6d6d6" stroke="#000" stroke-width="2" stroke-linejoin="round"/>
<line x1="343.00" y1="855.50" x2="343.00" y2="858.80" stroke="#000" stroke-width="2"/>
<line x1="340.40" y1="855.50" x2="345.60" y2="855.50" stroke="#000" stroke-width="2"/>
<rect x="338.80" y="858.80" width="8.4" height="21.70" fill="#606060" stroke="#000" stroke-width="2" stroke-linejoin="round"/>
<line x1="372.20" y1="791.40" x2="372.20" y2="797.50" stroke="#000" stroke-width="2"/>
<line x1="369.60" y1="791.40" x2="374.80" y2="791.40" stroke="#000" stroke-width="2"/>
<rect x="368.00" y="797.50" width="8.4" height="83.00" fill="#c8ddf8" stroke="#000" stroke-width="2" stroke-linejoin="round"/>
<line x1="386.80" y1="839.30" x2="386.80" y2="841.70" stroke="#000" stroke-width="2"/>
<line x1="384.20" y1="839.30" x2="389.40" y2="839.30" stroke="#000" stroke-width="2"/>
<rect x="382.60" y="841.70" width="8.4" height="38.80" fill="#559fff" stroke="#000" stroke-width="2" stroke-linejoin="round"/>
<line x1="401.40" y1="803.90" x2="401.40" y2="809.60" stroke="#000" stroke-width="2"/>
<line x1="398.80" y1="803.90" x2="404.00" y2="803.90" stroke="#000" stroke-width="2"/>
<rect x="397.20" y="809.60" width="8.4" height="70.90" fill="#0a8099" stroke="#000" stroke-width="2" stroke-linejoin="round"/>
<line x1="416.00" y1="729.70" x2="416.00" y2="745.30" stroke="#000" stroke-width="2"/>
<line x1="413.40" y1="729.70" x2="418.60" y2="729.70" stroke="#000" stroke-width="2"/>
<rect x="411.80" y="745.30" width="8.4" height="135.20" fill="#054d62" stroke="#000" stroke-width="2" stroke-linejoin="round"/>
<line x1="449.58" y1="852.10" x2="449.58" y2="858.00" stroke="#000" stroke-width="2"/>
<line x1="446.98" y1="852.10" x2="452.18" y2="852.10" stroke="#000" stroke-width="2"/>
<rect x="445.38" y="858.00" width="8.4" height="22.50" fill="#000000" stroke="#000" stroke-width="2" stroke-linejoin="round"/>
<line x1="464.18" y1="858.90" x2="464.18" y2="865.10" stroke="#000" stroke-width="2"/>
<line x1="461.58" y1="858.90" x2="466.78" y2="858.90" stroke="#000" stroke-width="2"/>
<rect x="459.98" y="865.10" width="8.4" height="15.40" fill="#a1a0a6" stroke="#000" stroke-width="2" stroke-linejoin="round"/>
<line x1="478.78" y1="858.60" x2="478.78" y2="863.10" stroke="#000" stroke-width="2"/>
<line x1="476.18" y1="858.60" x2="481.38" y2="858.60" stroke="#000" stroke-width="2"/>
<rect x="474.58" y="863.10" width="8.4" height="17.40" fill="#808080" stroke="#000" stroke-width="2" stroke-linejoin="round"/>
<line x1="493.38" y1="855.20" x2="493.38" y2="860.20" stroke="#000" stroke-width="2"/>
<line x1="490.78" y1="855.20" x2="495.98" y2="855.20" stroke="#000" stroke-width="2"/>
<rect x="489.18" y="860.20" width="8.4" height="20.30" fill="#d6d6d6" stroke="#000" stroke-width="2" stroke-linejoin="round"/>
<line x1="507.98" y1="854.10" x2="507.98" y2="858.80" stroke="#000" stroke-width="2"/>
<line x1="505.38" y1="854.10" x2="510.58" y2="854.10" stroke="#000" stroke-width="2"/>
<rect x="503.78" y="858.80" width="8.4" height="21.70" fill="#606060" stroke="#000" stroke-width="2" stroke-linejoin="round"/>
<line x1="537.18" y1="848.90" x2="537.18" y2="855.40" stroke="#000" stroke-width="2"/>
<line x1="534.58" y1="848.90" x2="539.78" y2="848.90" stroke="#000" stroke-width="2"/>
<rect x="532.98" y="855.40" width="8.4" height="25.10" fill="#c8ddf8" stroke="#000" stroke-width="2" stroke-linejoin="round"/>
<line x1="551.78" y1="864.00" x2="551.78" y2="868.10" stroke="#000" stroke-width="2"/>
<line x1="549.18" y1="864.00" x2="554.38" y2="864.00" stroke="#000" stroke-width="2"/>
<rect x="547.58" y="868.10" width="8.4" height="12.40" fill="#559fff" stroke="#000" stroke-width="2" stroke-linejoin="round"/>
<line x1="566.38" y1="757.60" x2="566.38" y2="761.40" stroke="#000" stroke-width="2"/>
<line x1="563.78" y1="757.60" x2="568.98" y2="757.60" stroke="#000" stroke-width="2"/>
<rect x="562.18" y="761.40" width="8.4" height="119.10" fill="#0a8099" stroke="#000" stroke-width="2" stroke-linejoin="round"/>
<line x1="580.98" y1="808.40" x2="580.98" y2="822.30" stroke="#000" stroke-width="2"/>
<line x1="578.38" y1="808.40" x2="583.58" y2="808.40" stroke="#000" stroke-width="2"/>
<rect x="576.78" y="822.30" width="8.4" height="58.20" fill="#054d62" stroke="#000" stroke-width="2" stroke-linejoin="round"/>
<text x="149.40" y="696.47" font-size="29" text-anchor="middle" stroke="#000" stroke-width="0.25">*</text>
<text x="164.30" y="697.17" font-size="29" text-anchor="middle" stroke="#000" stroke-width="0.25">*</text>
<text x="181.20" y="697.87" font-size="29" text-anchor="middle" stroke="#000" stroke-width="0.25">*</text>
<text x="222.50" y="723.07" font-size="29" text-anchor="middle" stroke="#000" stroke-width="0.25">*</text>
<text x="313.60" y="853.57" font-size="29" text-anchor="middle" stroke="#000" stroke-width="0.25">*</text>
<text x="330.50" y="859.07" font-size="29" text-anchor="middle" stroke="#000" stroke-width="0.25">*</text>
<text x="343.40" y="861.77" font-size="29" text-anchor="middle" stroke="#000" stroke-width="0.25">*</text>
<text x="416.70" y="731.97" font-size="29" text-anchor="middle" stroke="#000" stroke-width="0.25">*</text>
<text x="568.00" y="761.17" font-size="29" text-anchor="middle" stroke="#000" stroke-width="0.25">*</text>
<rect x="617" y="603.10" width="42.5" height="14.20" rx="1" fill="#000000" stroke="#000" stroke-width="2"/>
<text x="684.30" y="620.70" font-size="28.6" text-anchor="start">0 μM sc1o</text>
<rect x="617" y="638.00" width="42.5" height="13.70" rx="1" fill="#a1a0a6" stroke="#000" stroke-width="2"/>
<text x="684.30" y="655.20" font-size="28.6" text-anchor="start">1 μM sc1o</text>
<rect x="617" y="672.80" width="42.5" height="13.60" rx="1" fill="#808080" stroke="#000" stroke-width="2"/>
<text x="684.30" y="689.60" font-size="28.6" text-anchor="start">10 μM sc1o</text>
<rect x="617" y="705.10" width="42.5" height="13.70" rx="1" fill="#d6d6d6" stroke="#000" stroke-width="2"/>
<text x="684.30" y="722.00" font-size="28.6" text-anchor="start">25 μM sc1o</text>
<rect x="617" y="738.20" width="42.5" height="12.50" rx="1" fill="#606060" stroke="#000" stroke-width="2"/>
<text x="684.30" y="754.80" font-size="28.6" text-anchor="start">50 μM sc1o</text>
<rect x="617" y="776.70" width="42.5" height="12.60" rx="1" fill="#c8ddf8" stroke="#000" stroke-width="2"/>
<text x="684.30" y="792.70" font-size="28.6" text-anchor="start">w FBS</text>
<rect x="617" y="808.90" width="42.5" height="13.10" rx="1" fill="#559fff" stroke="#000" stroke-width="2"/>
<text x="684.30" y="825.10" font-size="28.6" text-anchor="start">w/o FBS</text>
<rect x="617" y="841.60" width="42.5" height="12.80" rx="1" fill="#0a8099" stroke="#000" stroke-width="2"/>
<text x="684.30" y="857.70" font-size="28.6" text-anchor="start">Curcumin</text>
<rect x="617" y="873.80" width="42.5" height="13.20" rx="1" fill="#054d62" stroke="#000" stroke-width="2"/>
<text x="684.30" y="890.30" font-size="28.6" text-anchor="start">Staurosporine</text>
</svg>
</body></html>
